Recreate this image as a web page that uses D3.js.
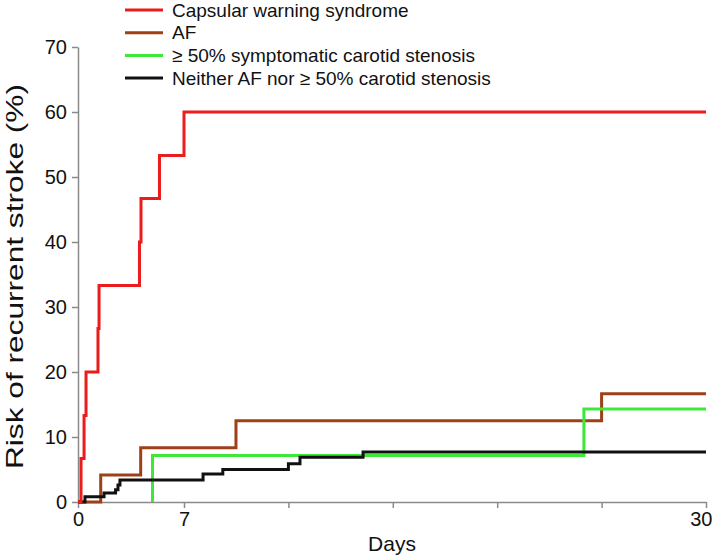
<!DOCTYPE html>
<html>
<head>
<meta charset="utf-8">
<script src="https://cdn.jsdelivr.net/npm/d3@7/dist/d3.min.js"></script>
<style>
  html, body { margin: 0; padding: 0; background: #fff; }
  svg { display: block; font-family: "Liberation Sans", Arial, sans-serif; }
</style>
</head>
<body>
<svg id="chart" width="713" height="556"></svg>
<script>
// ---- data (days, cumulative risk %) ----
const seriesNames = ["Capsular warning syndrome", "AF", "\u2265 50% symptomatic carotid stenosis", "Neither AF nor \u2265 50% carotid stenosis"];
const seriesColors = ["#ec1c1c", "#9e4018", "#3fe838", "#111111"];

const cwsDays   = [0, 0.2, 0.4, 0.53, 1.32, 1.39, 4.06, 4.16, 5.38, 7.0, 30];
const cwsRisk   = [0, 6.7, 13.3, 20.0, 26.7, 33.3, 40.0, 46.7, 53.3, 60.0, 60.0];

const afDays    = [0, 1.5, 4.14, 9.29, 25.4, 30];
const afRisk    = [0, 4.17, 8.33, 12.5, 16.67, 16.67];

const carDays   = [4.92, 4.92, 24.62, 30];
const carRisk   = [0, 7.14, 14.29, 14.29];

const neiDays   = [0, 0.46, 1.72, 2.48, 2.64, 2.77, 7.84, 8.71, 11.6, 12.11, 14.89, 30];
const neiRisk   = [0, 0.8, 1.4, 1.9, 2.6, 3.4, 4.3, 5.0, 5.9, 6.9, 7.7, 7.7];

const xTickValues = [0, 7, 11.6, 16.2, 20.8, 25.4, 30];
const xTickLabels = ["0", "7", "", "", "", "", "30"];
const yTickValues = [0, 10, 20, 30, 40, 50, 60, 70];

// ---- layout ----
const svg = d3.select("#chart");
const mLeft = 78, mRight = 706, mTop = 47, mBottom = 502;

const x = d3.scaleLinear().domain([0, 7, 30]).range([mLeft, 184, mRight]);
const y = d3.scaleLinear().domain([0, 70]).range([mBottom, mTop]);

const axisColor = "#8a8a8a";

// y axis
const yAxis = svg.append("g")
  .attr("transform", `translate(${mLeft},0)`)
  .call(d3.axisLeft(y).tickValues(yTickValues).tickSize(6).tickSizeOuter(0).tickPadding(5));
yAxis.select(".domain").attr("stroke", axisColor).attr("stroke-width", 1.5);
yAxis.selectAll(".tick line").attr("stroke", axisColor).attr("stroke-width", 1.5);
yAxis.selectAll(".tick text").attr("fill", "#111").style("font-size", "20px")
  .style("font-family", "'Liberation Sans', Arial, sans-serif");

// x axis
const xAxis = svg.append("g")
  .attr("transform", `translate(0,${mBottom})`)
  .call(d3.axisBottom(x).tickValues(xTickValues)
    .tickFormat((d, i) => xTickLabels[i]).tickSize(6).tickSizeOuter(0).tickPadding(4));
xAxis.select(".domain").attr("stroke", axisColor).attr("stroke-width", 1.5);
xAxis.selectAll(".tick line").attr("stroke", axisColor).attr("stroke-width", 1.5);
xAxis.selectAll(".tick text").attr("fill", "#111").style("font-size", "20px")
  .style("font-family", "'Liberation Sans', Arial, sans-serif");
xAxis.selectAll(".tick text").filter((d, i) => i === xTickValues.length - 1)
  .attr("text-anchor", "end").attr("dx", "6");

// axis titles
svg.append("text")
  .attr("x", (mLeft + mRight) / 2)
  .attr("y", 551)
  .attr("text-anchor", "middle")
  .style("font-size", "21px")
  .attr("fill", "#111")
  .text("Days");

svg.append("text")
  .attr("transform", `translate(23,${(mTop + mBottom) / 2 + 2}) rotate(-90)`)
  .attr("text-anchor", "middle")
  .attr("textLength", 385)
  .attr("lengthAdjust", "spacingAndGlyphs")
  .style("font-size", "24px")
  .attr("fill", "#111")
  .text("Risk of recurrent stroke (%)");

// step curves
const line = d3.line().x(d => x(d[0])).y(d => y(d[1])).curve(d3.curveStepAfter);
const allSeries = [
  [afDays, afRisk],
  [carDays, carRisk],
  [neiDays, neiRisk],
  [cwsDays, cwsRisk]
];
const order = [1, 2, 3, 0];
allSeries.forEach((s, k) => {
  const pts = s[0].map((d, i) => [d, s[1][i]]);
  svg.append("path")
    .datum(pts)
    .attr("fill", "none")
    .attr("stroke", seriesColors[order[k]])
    .attr("stroke-width", 3)
    .attr("stroke-linejoin", "miter")
    .attr("d", line);
});

// legend
const legend = svg.append("g");
seriesNames.forEach((name, i) => {
  const ly = 10 + i * 22.7;
  legend.append("line")
    .attr("x1", 125).attr("x2", 163)
    .attr("y1", ly).attr("y2", ly)
    .attr("stroke", seriesColors[i]).attr("stroke-width", 3);
  legend.append("text")
    .attr("x", 172).attr("y", ly)
    .attr("dy", "0.35em")
    .style("font-size", "19px")
    .attr("fill", "#111")
    .text(name);
});
</script>
</body>
</html>
